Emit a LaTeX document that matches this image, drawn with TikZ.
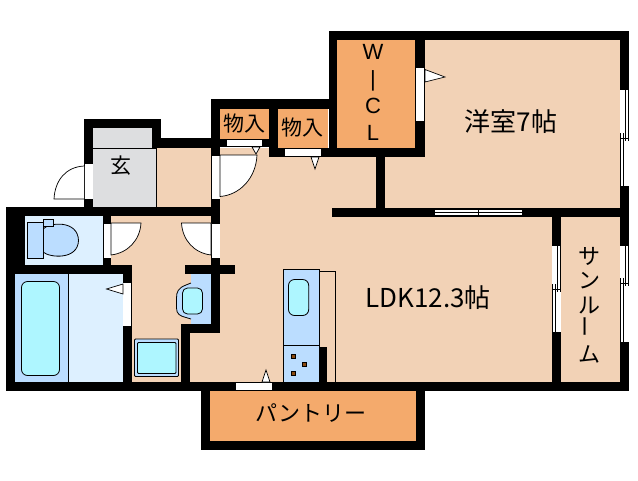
\documentclass[tikz,border=0pt]{standalone}
\usepackage{fontspec}
\setmainfont{Liberation Sans}
\newfontfamily\jpf{Noto Sans CJK JP}
\definecolor{tanc}{HTML}{F2D2B6}
\definecolor{orangec}{HTML}{F4AA6C}
\definecolor{grayc}{HTML}{DDDEE0}
\definecolor{paleb}{HTML}{DDF0FF}
\definecolor{midb}{HTML}{BBDDFF}
\definecolor{cyanc}{HTML}{AEF6FF}
\definecolor{brownc}{HTML}{8B4A10}
\tikzset{
  wall/.style={fill=black,draw=none},
  floorarea/.style={fill=tanc,draw=none},
  closet/.style={fill=orangec,draw=none},
  gap/.style={fill=white,draw=none},
  thin line/.style={draw=black,line width=0.8pt},
  fixture/.style={draw=black,line width=0.8pt,fill=midb},
  basin/.style={draw=black,line width=0.8pt,fill=cyanc},
  leaf/.style={draw=black,line width=0.7pt,fill=white},
  label/.style={inner sep=0pt,font=\jpf\fontsize{21}{21}\selectfont,text=black},
}
% vertical window: x left, y top, y mid, y bottom
\newcommand{\winV}[4]{
  \fill[white] (#1,#2) rectangle (#1+8.5,#4);
  \draw[black,line width=0.7pt] (#1+5.6,#2) -- (#1+5.6,#3+3) (#1+8,#2) -- (#1+8,#3+3);
  \draw[black,line width=0.7pt] (#1+0.6,#3-5) -- (#1+0.6,#4) (#1+3.2,#3-5) -- (#1+3.2,#4);
  \draw[black,line width=0.7pt] (#1+0.6,#3) -- (#1+8,#3);
}
\begin{document}
\begin{tikzpicture}[x=1pt,y=-1pt]
\useasboundingbox (0,0) rectangle (638,480);
\fill[white] (0,0) rectangle (638,480);
% floors
\fill[floorarea] (220,148) rectangle (620,382);
\fill[floorarea] (425,40) rectangle (620,208);
\fill[floorarea] (132,216) rectangle (220,382);
\fill[floorarea] (111,216) rectangle (220,265);
\fill[floorarea] (157,148) rectangle (211,207);
% genkan
\fill[grayc] (93,128) rectangle (152,149);
\fill[grayc] (93,149) rectangle (156.5,207);
\draw[thin line] (93,148.5) -- (157,148.5) (156.7,148.5) -- (156.7,207);
% closets
\fill[closet] (220,109) rectangle (269,139);
\fill[closet] (278,109) rectangle (328,148);
\fill[closet] (337,40) rectangle (415,148);
\fill[closet] (210,391) rectangle (416,441);
% wet rooms
\fill[paleb] (25,216) rectangle (103,265);
\fill[midb] (15,274) rectangle (68,382);
\fill[paleb] (68,274) rectangle (123,382);
\fill[midb] (191,274) rectangle (211,324);
% walls
\fill[wall] (84,119) rectangle (161,128);
\fill[wall] (84,119) rectangle (93,207);
\fill[wall] (152,119) rectangle (161,148);
\fill[wall] (157,138) rectangle (220,148);
\fill[wall] (6,207) rectangle (220,216);
\fill[wall] (6,207) rectangle (25,274);
\fill[wall] (6,207) rectangle (15,391);
\fill[wall] (103,216) rectangle (111,265);
\fill[wall] (6,265) rectangle (132,274);
\fill[wall] (123,265) rectangle (132,382);
\fill[wall] (185,265) rectangle (235,274);
\fill[wall] (211,99) rectangle (220,333);
\fill[wall] (181,324) rectangle (220,333);
\fill[wall] (181,324) rectangle (190,382);
\fill[wall] (6,382) rectangle (629,391);
\fill[wall] (211,99) rectangle (337,109);
\fill[wall] (211,139) rectangle (278,147);
\fill[wall] (269,99) rectangle (278,157);
\fill[wall] (269,148) rectangle (425,157);
\fill[wall] (329,31) rectangle (337,157);
\fill[wall] (329,31) rectangle (629,40);
\fill[wall] (415,40) rectangle (425,157);
\fill[wall] (376,157) rectangle (385,208);
\fill[wall] (332,208) rectangle (629,217);
\fill[wall] (620,31) rectangle (629,391);
\fill[wall] (552,217) rectangle (561,382);
\fill[wall] (201,391) rectangle (210,450);
\fill[wall] (416,391) rectangle (425,450);
\fill[wall] (201,441) rectangle (425,450);
% door openings
\fill[gap] (85,164) rectangle (92.5,199);
\fill[gap] (212,155) rectangle (219.5,199);
\fill[gap] (103.5,223) rectangle (111,258);
\fill[gap] (211.5,223) rectangle (219.5,258);
\fill[gap] (123,282) rectangle (131,326);
\fill[gap] (227,140) rectangle (262,146);
\fill[gap] (285,149) rectangle (321,156);
\fill[gap] (416,68) rectangle (423.5,121);
\fill[gap] (236,383) rectangle (271.5,390);
% door leaves
\draw[leaf] (84,199) -- (54,199) .. controls (55,180) and (66,167) .. (84,166);
\draw[leaf] (220,155) -- (257,155) .. controls (256,178) and (240,195) .. (220,196.5) -- cycle;
\draw[leaf] (111,223) -- (141,223) .. controls (140,240) and (128,253) .. (111,255) -- cycle;
\draw[leaf] (211,223) -- (181.5,223) .. controls (182.5,240) and (194,253) .. (211,255) -- cycle;
\draw[thin line] (212,155) -- (220,155) (103.5,223) -- (111,223) (211.5,223) -- (219.5,223);
% door triangles
\draw[leaf] (252,147) -- (260,147) -- (256,154) -- cycle;
\draw[leaf] (311,157) -- (319,157) -- (315,169) -- cycle;
\draw[leaf] (425,69.5) -- (445,77) -- (425,82) -- cycle;
\draw[leaf] (123,284) -- (106.5,289) -- (123,294) -- cycle;
\draw[leaf] (262,382) -- (266,370) -- (270,382) -- cycle;
\draw[black,line width=0.8pt] (424.2,68) -- (424.2,121);
\draw[black,line width=0.8pt] (123,282) -- (132,282);
% windows
\winV{620}{90}{138}{186}
\winV{620}{246}{283}{342}
\winV{552}{246}{289}{332}
\fill[white] (435,209) rectangle (522,216);
\draw[black,line width=0.7pt] (435,209.3) -- (483,209.3) (435,215.3) -- (522,215.3) (478,212.3) -- (522,212.3) (478,208) -- (478,216) (435,212) -- (483,212);
\draw[black,line width=0.7pt] (478,209.5) -- (522,209.5);
% toilet
\draw[fixture] (43,229) .. controls (50,222) and (78,220) .. (78.5,240.5) .. controls (78,260) and (50,258) .. (43,252) -- cycle;
\draw[fixture] (43.5,219.5) rectangle (53.7,226);
\draw[fixture] (27.3,222.5) rectangle (43,258.5);
% bath
\draw[thin line] (68.5,274) -- (68.5,382);
\draw[basin,rounded corners=6pt] (21.5,281.5) rectangle (59.5,375.5);
% wash basin
\draw[fixture] (191,283) -- (186,285) .. controls (178,288) and (176.5,292) .. (176.5,298) -- (176.5,308) .. controls (176.5,314) and (180,316) .. (186,317.5) -- (191,319);
\draw[basin,rounded corners=5pt] (182.5,288) rectangle (202.5,314);
% washer pan
\draw[fixture,rounded corners=1pt] (134.5,339) rectangle (178.5,376.5);
\draw[basin,rounded corners=1pt] (137.5,342.5) rectangle (176,373.5);
% kitchen
\draw[thin line] (319.5,271) -- (335.5,271) -- (335.5,382);
\fill[wall] (319,347) rectangle (327,382);
\draw[fixture] (283.5,269.5) rectangle (319,382);
\draw[thin line] (283.5,345) -- (319,345);
\draw[basin,rounded corners=6pt] (288.5,279.5) rectangle (308.7,315.5);
\foreach \px/\py in {293.5/356.5,304.5/364.5,293.5/373}
  \draw[fill=brownc,draw=black,line width=0.5pt] (\px-2,\py-2) rectangle (\px+2,\py+2);
% labels
\node[label] (genkan) at (121,166) {玄};
\node[label] (mono1) at (244.5,124) {物入};
\node[label] (mono2) at (302,128) {物入};
\node[label,align=center,font=\fontsize{22}{27}\selectfont] (wic) at (373,92) {W\\|\\C\\L};
\node[label,font=\jpf\fontsize{26}{26}\selectfont] (youshitsu) at (511,122) {洋室7帖};
\node[label,font=\jpf\fontsize{26}{26}\selectfont] (ldk) at (428,298) {LDK12.3帖};
\node[label,font=\jpf\fontsize{22}{22}\selectfont] (pantry) at (311,413) {パントリー};
\node[label,align=center,font=\jpf\fontsize{22}{24.5}\selectfont] (sunroom) at (589,305) {サ\\ン\\ル\\\rotatebox{90}{ー}\\ム};
\end{tikzpicture}
\end{document}
